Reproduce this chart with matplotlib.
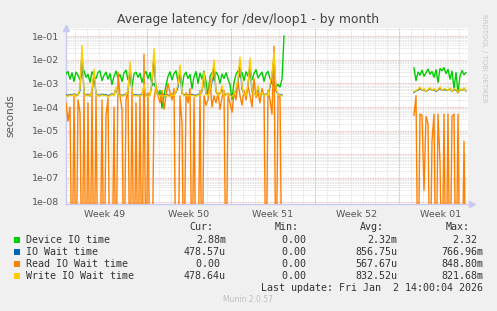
import numpy as np
import matplotlib
matplotlib.use("Agg")
import matplotlib.pyplot as plt

# valeurs en millisecondes, un point toutes les 4 heures
# segment 1 : jours 0 -> 18.2 ; segment 2 : jours 29 -> 33.3
step = 1 / 6
seg1_start = 0.0
seg2_start = 29.0

device_1 = [2.5, 3.2, 1.5, 2.8, 1.2, 3.0, 2.2, 1.4, 2.6, 3.5,
            1.8, 2.4, 1.1, 3.1, 2.0, 1.6, 2.9, 3.4, 1.3, 2.2,
            3.0, 1.5, 2.6, 0.9, 2.0, 3.3, 1.7, 2.4, 1.2, 2.8,
            3.6, 1.4, 2.1, 0.7, 2.5, 3.0, 1.8, 2.7, 1.1, 2.3,
            3.2, 1.6, 2.9, 0.8, 1.0, 0.6, 0.35, 0.5, 0.09, 0.3,
            0.8, 2.0, 3.1, 1.4, 2.6, 3.4, 1.2, 2.8, 0.7, 2.2,
            3.0, 1.6, 2.4, 0.6, 1.9, 3.2, 1.0, 2.7, 1.5, 3.3,
            1.2, 0.3, 2.0, 2.8, 1.3, 3.0, 2.2, 1.0, 2.5, 1.6,
            2.8, 1.5, 0.9, 0.2, 1.1, 2.4, 3.4, 1.8, 2.9, 1.3,
            3.1, 2.0, 3.6, 1.4, 2.6, 3.8, 1.7, 2.3, 3.0, 1.2,
            2.5, 3.2, 1.6, 1.0, 0.8, 0.7, 0.9, 0.7, 1.5, 100.0]
iowait_1 = [0.33, 0.3, 0.34, 0.32, 0.36, 0.31, 0.33, 0.5, 20, 0.38,
            0.32, 0.34, 0.3, 0.45, 2.5, 0.36, 0.32, 0.31, 0.35, 0.32,
            0.33, 0.3, 0.32, 0.36, 0.32, 0.6, 0.34, 0.32, 0.31, 0.32,
            0.35, 0.45, 5, 0.4, 0.32, 0.33, 0.31, 0.32, 0.34, 0.7,
            0.32, 0.3, 0.33, 1.0, 15, 0.45, 0.32, 0.34, 0.31, 0.32,
            0.33, 0.32, 0.3, 0.35, 0.32, 0.42, 0.7, 3.5, 0.38, 0.32,
            0.34, 0.31, 0.32, 0.33, 0.32, 0.3, 0.35, 0.32, 0.45, 2,
            0.36, 0.32, 0.5, 1.2, 6, 0.45, 0.32, 0.36, 0.6, 0.32,
            0.34, 0.38, 0.32, 0.3, 0.36, 0.5, 1.2, 8, 0.6, 0.36,
            0.32, 0.7, 7, 0.45, 0.36, 0.32, 0.6, 0.34, 0.38, 0.32,
            0.36, 0.32, 0.7, 2, 12, 0.5, 0.36, 0.32, 0.32, np.nan]
read_1 = [0.15, 0.025, 0.1, 0, 0.3, 0, 0.2, 0.06, 0, 0.4,
          0, 0.15, 0, 0.5, 0, 0.3, 0, 0, 0.2, 0,
          0.04, 0.25, 0, 0, 0.1, 0, 3.0, 0.3, 0.08, 0,
          0.2, 0.5, 0, 0.6, 0, 0.15, 0, 0.3, 0, 17,
          0, 0.4, 0, 0, 0.2, 0.8, 0.3, 0.15, 0.5, 0.08,
          0.3, 1.0, 0.4, 0.2, 0.6, 0, 0, 0.3, 0.02, 0,
          0.4, 0.15, 0.6, 0, 0.25, 0, 0, 0.5, 0, 0.3,
          0.12, 0.2, 1.5, 0.1, 0.3, 0.15, 0.4, 0.08, 0.25, 0.5,
          0, 0.3, 0.15, 0.06, 0.4, 0.2, 1.2, 0.3, 0.12, 0.5,
          0.2, 0.8, 0.3, 0.1, 1.6, 0.25, 0.4, 0.15, 0.6, 0.3,
          0, 0.5, 0.2, 0.05, 37, 0, 0.3, 0.25, 0, np.nan]
write_1 = [0.3, 0.28, 0.32, 0.3, 0.35, 0.29, 0.31, 0.6, 40, 0.4,
           0.3, 0.32, 0.28, 0.5, 4, 0.35, 0.3, 0.29, 0.33, 0.3,
           0.31, 0.28, 0.3, 0.34, 0.3, 0.7, 0.32, 0.3, 0.29, 0.3,
           0.33, 0.5, 8, 0.4, 0.3, 0.31, 0.29, 0.3, 0.32, 0.9,
           0.3, 0.28, 0.31, 1.2, 30, 0.5, 0.3, 0.32, 0.29, 0.3,
           0.31, 0.3, 0.28, 0.33, 0.3, 0.45, 0.9, 6, 0.4, 0.3,
           0.32, 0.29, 0.3, 0.31, 0.3, 0.28, 0.33, 0.3, 0.5, 3,
           0.35, 0.3, 0.6, 1.5, 10, 0.5, 0.3, 0.35, 0.8, 0.3,
           0.32, 0.4, 0.3, 0.28, 0.35, 0.6, 1.5, 13, 0.7, 0.35,
           0.3, 0.9, 12, 0.5, 0.35, 0.3, 0.8, 0.32, 0.4, 0.3,
           0.35, 0.3, 0.9, 2.5, 20, 0.6, 0.35, 0.3, 0.3, np.nan]

device_2 = [4.5, 1.3, 3.0, 2.2, 3.6, 2.0, 2.8, 4.0, 2.4, 3.2,
            1.8, 3.8, 1.1, 4.2, 3.4, 4.6, 2.6, 3.9, 1.5, 3.3,
            0.6, 2.9, 0.4, 2.0, 3.5, 2.3, 2.88]
iowait_2 = [0.42, 0.48, 0.52, 0.6, 0.5, 0.55, 0.45, 0.52, 0.6, 0.5,
            0.55, 0.46, 0.52, 0.62, 0.5, 0.55, 0.52, 0.5, 0.6, 0.45,
            0.55, 0.52, 0.4, 0.55, 0.5, 0.6, 0.4786]
read_2 = [0.045, 0.3, 0, 0.05, 0.045, 0.00003, 0.04, 0.02, 0, 0.0035,
          0.05, 0, 0.05, 0.0005, 0, 0.05, 0, 0.05, 0, 0.04,
          0.05, 0, 0.05, 0, 0, 0.0035, 0]
write_2 = [0.45, 0.5, 0.55, 0.7, 0.5, 0.6, 0.45, 0.55, 0.65, 0.5,
           0.6, 0.48, 0.55, 0.7, 0.5, 0.6, 0.55, 0.5, 0.65, 0.45,
           0.6, 0.55, 0.4, 0.6, 0.5, 0.65, 0.4786]

week_labels = ["Week 49", "Week 50", "Week 51", "Week 52", "Week 01"]
week_starts = [6.75, 13.75, 20.75, 27.75]

legend_names = ["Device IO time", "IO Wait time", "Read IO Wait time", "Write IO Wait time"]
colors = ["#00CC00", "#0066B3", "#FF8000", "#FFCC00"]
cur = ["2.88m", "478.57u", "0.00 ", "478.64u"]
mins = ["0.00 ", "0.00 ", "0.00 ", "0.00 "]
avgs = ["2.32m", "856.75u", "567.67u", "832.52u"]
maxs = ["2.32 ", "766.96m", "848.80m", "821.68m"]

W, H = 497, 311
fig = plt.figure(figsize=(W / 100, H / 100), dpi=100)
fig.patch.set_facecolor("#F0F0F0")
L, R, T, B = 66, 468, 28, 204
ax = fig.add_axes([L / W, 1 - B / H, (R - L) / W, (B - T) / H])
ax.set_facecolor("white")

t1 = seg1_start + step * np.arange(len(device_1))
t2 = seg2_start + step * np.arange(len(device_2))
series = [(device_1, device_2), (iowait_1, iowait_2), (read_1, read_2), (write_1, write_2)]
for (s1, s2), c in zip(series, colors):
    for t, s in ((t1, s1), (t2, s2)):
        v = np.array(s, dtype=float) / 1000.0
        v = np.where(v <= 0, 1e-12, v)  # zero -> bas du graphe
        ax.plot(t, v, color=c, lw=1, zorder=3)

ax.set_yscale("log")
ax.set_ylim(10 ** -8.1, 10 ** -0.66)
ax.set_xlim(0, 33.5)

# grille façon rrdtool
for k in range(-8, 0):
    for m in range(2, 10):
        ax.axhline(m * 10.0 ** k, color="#D8D8D8", lw=0.6, ls=(0, (1, 1)), zorder=1)
    ax.axhline(10.0 ** k, color="#F0A0A0", lw=0.6, ls=(0, (1, 1)), zorder=2)
for d in np.arange(0.75, 33.5, 1.0):
    ax.axvline(d, color="#D8D8D8", lw=0.6, ls=(0, (1, 1)), zorder=1)
for w in week_starts:
    ax.axvline(w, color="#F0A0A0", lw=0.6, ls=(0, (1, 1)), zorder=2)

ax.set_yticks([10.0 ** k for k in range(-8, 0)])
ax.set_yticklabels(["1e-%02d" % -k for k in range(-8, 0)])
ax.yaxis.set_minor_locator(matplotlib.ticker.NullLocator())
ax.set_xticks([w - 3.5 for w in week_starts] + [week_starts[-1] + 3.5])
ax.set_xticklabels(week_labels)
ax.tick_params(axis="both", length=0, labelsize=6.8, colors="#555555", pad=5)
ax.tick_params(axis="x", pad=4)

for s in ["top", "right"]:
    ax.spines[s].set_visible(False)
for s in ["left", "bottom"]:
    ax.spines[s].set_color("#C8C8F0")
    ax.spines[s].set_linewidth(1)
ax.plot([0], [1], marker="^", color="#C8C8F0", ms=4, transform=ax.transAxes, clip_on=False)
ax.plot([1.01], [0], marker=">", color="#C8C8F0", ms=4, transform=ax.transAxes, clip_on=False)
ax.set_ylabel("seconds", fontsize=7.5, color="#555555", labelpad=12)

fig.text(0.5, 1 - 19 / H, "Average latency for /dev/loop1 - by month", ha="center", va="center",
         fontsize=8.9, color="#444444")
fig.text(484 / W, 1 - 58 / H, "RRDTOOL / TOBI OETIKER", rotation=270, ha="center", va="center",
         fontsize=5, color="#C8C8C8")

# légende en bas
mono = "DejaVu Sans Mono"
fs = 7.2
def px(x, y):
    return x / W, 1 - y / H

col_right = [226, 312, 397, 483]
for x, h in zip([213, 299, 384, 470], ["Cur:", "Min:", "Avg:", "Max:"]):
    fig.text(*px(x, 227), h, ha="right", va="center", family=mono, fontsize=fs, color="#333333")
for i, name in enumerate(legend_names):
    y = 240 + i * 11.9
    fig.patches.append(plt.Rectangle(px(14, y + 3), 6 / W, 6 / H, transform=fig.transFigure,
                                     facecolor=colors[i], edgecolor="none"))
    fig.text(*px(26, y), name, ha="left", va="center", family=mono, fontsize=fs, color="#333333")
    for x, v in zip(col_right, [cur[i], mins[i], avgs[i], maxs[i]]):
        fig.text(*px(x, y), v, ha="right", va="center", family=mono, fontsize=fs, color="#333333")
fig.text(*px(483, 288), "Last update: Fri Jan  2 14:00:04 2026", ha="right", va="center",
         family=mono, fontsize=fs, color="#333333")
fig.text(*px(248, 300), "Munin 2.0.57", ha="center", va="center", fontsize=5.5, color="#C0C0C0")

fig.savefig("out.png", dpi=100, facecolor=fig.get_facecolor())
